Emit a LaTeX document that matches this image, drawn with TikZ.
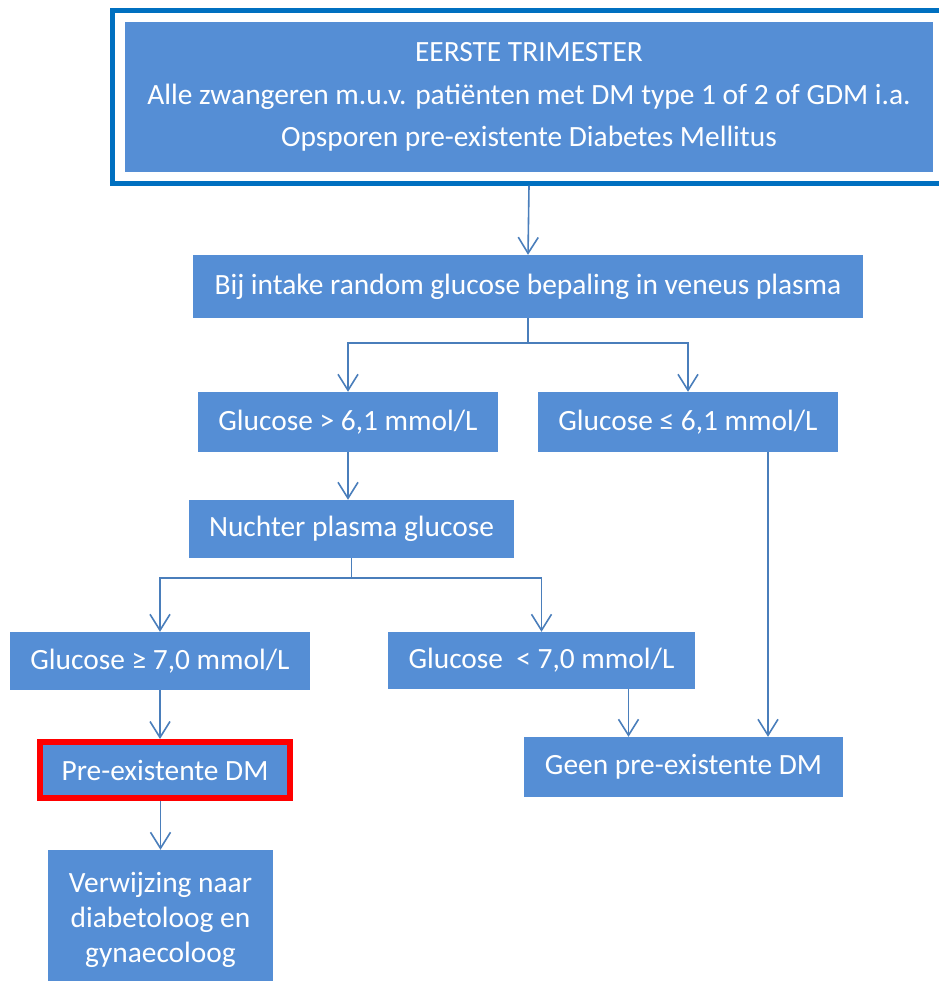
\documentclass[tikz,border=0pt]{standalone}
\usepackage{fontspec}
\setmainfont{Carlito}
\usetikzlibrary{arrows.meta,calc,fit}

\definecolor{boxfill}{HTML}{558ED5}
\definecolor{linkblue}{HTML}{4A7EBB}
\definecolor{frameblue}{HTML}{0070C0}
\definecolor{alertred}{HTML}{FF0000}

\tikzset{
  stepbox/.style={rectangle, fill=boxfill, text=white, align=center,
    inner sep=0pt, font=\fontsize{29.4}{35}\selectfont},
  link/.style={draw=linkblue, line width=1.6pt,
    -{Straight Barb[length=16pt,width=20pt,line width=1.6pt]}},
}

\begin{document}
\begin{tikzpicture}[x=1pt,y=-1pt]
\useasboundingbox (0,0) rectangle (938,981);

% first trimester header with its double frame
\node[stepbox, minimum width=808, minimum height=150,
      font=\fontsize{29.4}{42.5}\selectfont] (top) at (529,97)
  {EERSTE TRIMESTER\\
   Alle zwangeren m.u.v. patiënten met DM type 1 of 2 of GDM i.a.\\
   Opsporen pre-existente Diabetes Mellitus};
\node[fit=(top), inner xsep=12.5pt, inner ysep=11pt, draw=frameblue,
      line width=5pt] (frame) {};

% decision steps
\node[stepbox, minimum width=670, minimum height=63] (bij) at (528,286.5)
  {Bij intake random glucose bepaling in veneus plasma};
\node[stepbox, minimum width=300, minimum height=60] (g1) at (348,422)
  {Glucose > 6,1 mmol/L};
\node[stepbox, minimum width=300, minimum height=60] (g2) at (688,422)
  {Glucose ≤ 6,1 mmol/L};
\node[stepbox, minimum width=325, minimum height=58] (nu) at (351.5,529)
  {Nuchter plasma glucose};
\node[stepbox, minimum width=300, minimum height=58] (gge) at (160,661)
  {Glucose ≥ 7,0 mmol/L};
\node[stepbox, minimum width=307, minimum height=57] (glt) at (541.5,660.5)
  {Glucose \ < 7,0 mmol/L};
\node[stepbox, minimum width=250, minimum height=56, draw=alertred,
      line width=6pt] (pre) at (165,770)
  {Pre-existente DM};
\node[stepbox, minimum width=319, minimum height=60] (geen) at (683.5,767)
  {Geen pre-existente DM};
\node[stepbox, minimum width=225, minimum height=140,
      font=\fontsize{29.4}{35}\selectfont] (verw) at (160.5,920)
  {Verwijzing naar\\diabetoloog en\\gynaecoloog};

% exits of the two right-hand branches into the common end box
\coordinate (gltout) at ($(glt.south)+(87,0)$);
\coordinate (g2out) at ($(g2.south)+(80,0)$);

% connectors
\draw[link] (frame.south) -- (bij.north);
\draw[link] (bij.south) -- ++(0,25) -| (g1.north);
\draw[link] (bij.south) -- ++(0,25) -| (g2.north);
\draw[link] (g1.south) -- (g1.south |- nu.north);
\draw[link] (nu.south) -- ++(0,20) -| (gge.north);
\draw[link] (nu.south) -- ++(0,20) -| (glt.north);
\draw[link] (gge.south) -- (gge.south |- pre.north);
\draw[link] (pre.south -| verw.north) -- (verw.north);
\draw[link] (gltout) -- (gltout |- geen.north);
\draw[link] (g2out) -- (g2out |- geen.north);
\end{tikzpicture}
\end{document}
